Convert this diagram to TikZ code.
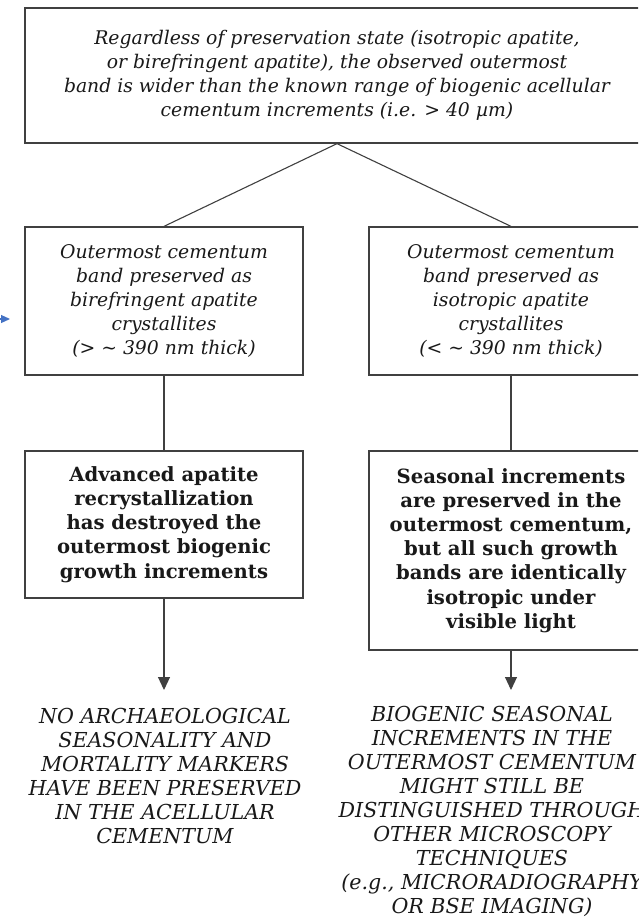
\documentclass[tikz,border=0pt]{standalone}
\usepackage{fontspec}
\setmainfont{DejaVu Serif}
\usepackage{xcolor}
\usetikzlibrary{arrows.meta}
\definecolor{pointerblue}{RGB}{68,114,196}

\begin{document}
\begin{tikzpicture}[x=1pt, y=-1pt,
	flowbox/.style={draw=black!75, line width=1.3pt, fill=white, align=center, inner sep=0pt, text=black!90},
	itbox/.style={flowbox, font=\fontsize{18.8}{24}\selectfont\itshape},
	bfbox/.style={flowbox, font=\fontsize{19.6}{24.2}\selectfont\bfseries},
	outcome/.style={align=center, inner sep=0pt, text=black!90, font=\fontsize{20.6}{24}\selectfont\itshape},
	link/.style={draw=black!75, line width=1.1pt},
	arrowlink/.style={link, -{Triangle[length=13pt, width=12pt]}}]
	\useasboundingbox (0,0) rectangle (638,918);
	\clip (0,0) rectangle (638,918);
	% top statement
	\node[itbox, minimum width=624, minimum height=135] (regardless) at (337,75.5)
		{Regardless of preservation state (isotropic apatite,\\
		or birefringent apatite), the observed outermost\\
		band is wider than the known range of biogenic acellular\\
		cementum increments (i.e. > 40 µm)};
	% the two states
	\node[itbox, minimum width=278, minimum height=148] (birefr) at (164,301)
		{Outermost cementum\\ band preserved as\\ birefringent apatite\\ crystallites\\ (> \textasciitilde{} 390 nm thick)};
	\node[itbox, minimum width=284, minimum height=148] (isotr) at (511,301)
		{Outermost cementum\\ band preserved as\\ isotropic apatite\\ crystallites\\ (< \textasciitilde{} 390 nm thick)};
	% interpretations
	\node[bfbox, minimum width=278, minimum height=147] (advanced) at (164,524.5)
		{Advanced apatite\\ recrystallization\\ has destroyed the\\ outermost biogenic\\ growth increments};
	\node[bfbox, minimum width=284, minimum height=199] (seasonal) at (511,550.5)
		{Seasonal increments\\ are preserved in the\\ outermost cementum,\\ but all such growth\\ bands are identically\\ isotropic under\\ visible light};
	% conclusions
	\node[outcome] (noarch) at (165,775.5)
		{NO ARCHAEOLOGICAL\\ SEASONALITY AND\\ MORTALITY MARKERS\\ HAVE BEEN PRESERVED\\ IN THE ACELLULAR\\ CEMENTUM};
	\node[outcome] (biogenic) at (492,811)
		{BIOGENIC SEASONAL\\ INCREMENTS IN THE\\ OUTERMOST CEMENTUM\\ MIGHT STILL BE\\ DISTINGUISHED THROUGH\\ OTHER MICROSCOPY\\ TECHNIQUES\\ (e.g., MICRORADIOGRAPHY\\ OR BSE IMAGING)};
	\coordinate (tipL) at (164,690);
	\coordinate (pointer) at (10,319);
	\draw[link] (regardless.south) -- (birefr.north);
	\draw[link] (regardless.south) -- (isotr.north);
	\draw[link] (birefr.south) -- (advanced.north);
	\draw[link] (isotr.south) -- (seasonal.north);
	\draw[arrowlink] (advanced.south) -- (tipL);
	\draw[arrowlink] (seasonal.south) -- (seasonal.south |- tipL);
	\draw[pointerblue, line width=1.2pt, -{Triangle[length=9pt, width=8pt]}] (-20,319) -- (pointer);
\end{tikzpicture}
\end{document}
